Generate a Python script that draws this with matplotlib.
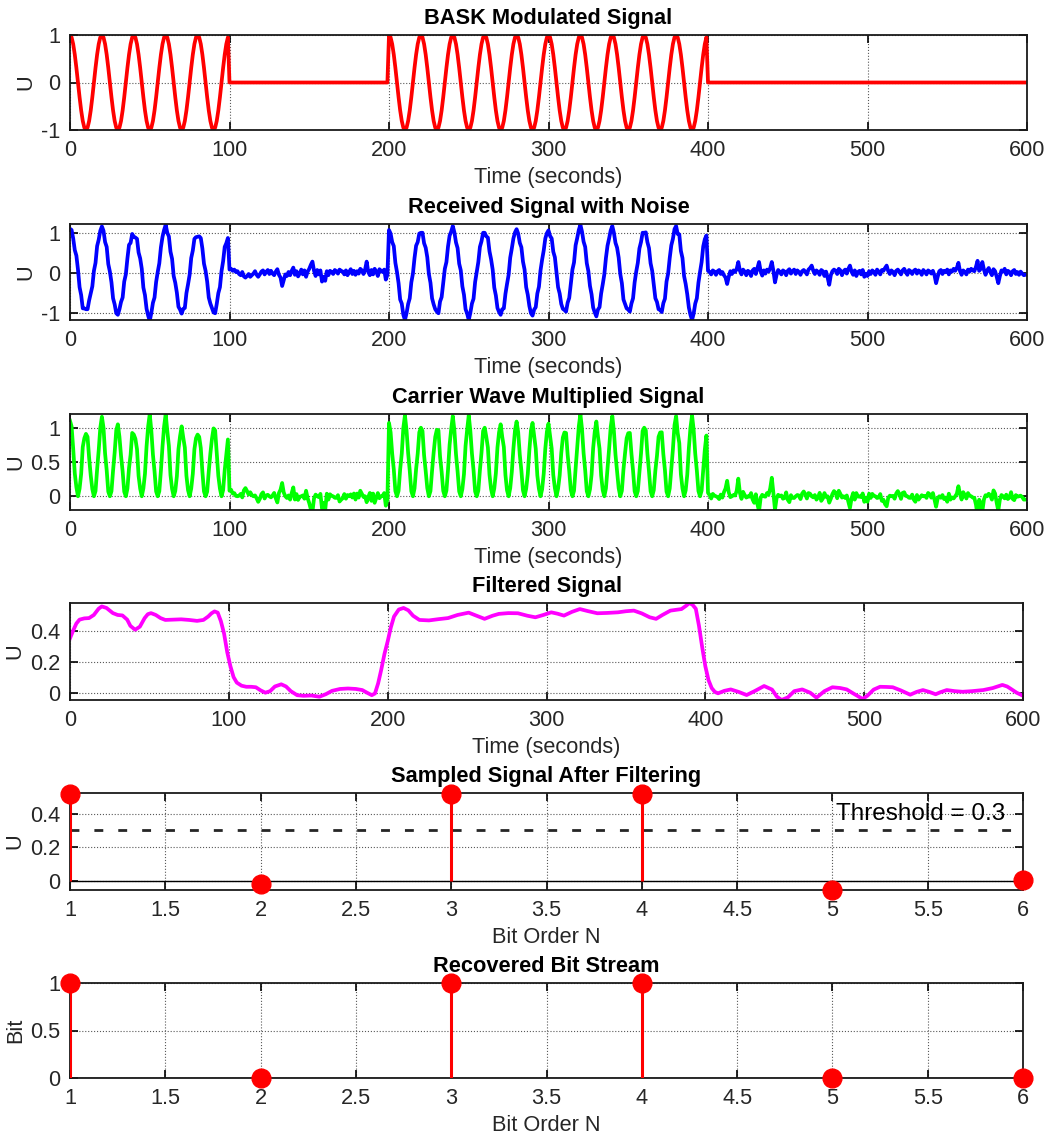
import numpy as np
import matplotlib
matplotlib.use('Agg')
import matplotlib.pyplot as plt

plt.rcParams['font.family'] = ['Liberation Sans', 'DejaVu Sans']
plt.rcParams['axes.unicode_minus'] = False

# transmitted bits and carrier
bits = [1, 0, 1, 1, 0, 0]
bit_duration = 100
carrier_period = 20

# channel noise, one value per second, one list per bit
noise_0 = [.10, .12, .05, -.02, .12, .08, -.05, .03, -.08, .06, .09, .04, .12, .07, -.03, .05, -.06, .08, .02, .10,
           .16, .10, -.04, .06, -.09, .03, .07, -.05, .02, -.06, -.05, .04, .08, -.03, .09, -.04, .05, .11, -.06, .02,
           -.10, -.07, .04, -.08, .05, .10, -.06, .03, -.09, -.12, -.20, -.05, .06, -.03, .08, .02, -.07, .05, .09, .12,
           .20, .05, .10, -.06, .04, -.08, .06, .09, -.04, .03, -.02, .05, -.07, .08, .02, -.05, .06, -.03, .04, -.06,
           -.10, -.04, .06, .02, -.08, .05, .09, -.03, .04, .07, .01, -.06, .03, .08, -.05, .04, -.02, .06, -.07, -.08]
noise_1 = [.08, .10, .05, .08, .02, .04, -.03, -.06, .02, -.09, -.12, -.08, -.03, -.10, -.06, -.02, .04, -.05, -.10, -.04,
           .03, .06, -.04, .02, .07, -.03, .05, -.02, -.06, .03, .09, -.05, -.12, -.33, -.18, -.04, -.08, .02, -.06, .05,
           .13, -.05, .04, -.09, -.02, .08, -.04, .06, -.10, .03, .10, .20, .28, .05, -.08, .07, -.04, .06, -.22, -.10,
           -.20, .04, -.06, .05, .02, -.03, .07, .04, -.02, .08, .05, .03, -.04, .06, -.06, .02, .09, -.03, .05, -.05,
           .04, -.02, .10, .06, -.03, .08, .28, .02, -.06, .07, -.04, .10, .03, -.08, .09, .05, .02, .08, -.17, -.05]
noise_2 = [.07, .03, -.04, .08, -.06, .02, .05, -.08, .04, -.10, -.18, -.06, .03, -.05, .07, -.02, .06, .09, -.04, .03,
           .00, .05, -.07, .04, .08, -.03, .06, -.05, .02, .04, .03, -.06, .09, -.02, .05, .10, -.04, .07, .12, .08,
           .17, .06, -.05, .03, -.08, .06, -.03, .04, -.10, -.07, -.18, -.05, .04, -.06, .08, .02, -.04, .06, -.02, .05,
           .00, -.04, .07, -.05, .03, .08, -.06, .02, -.07, -.03, -.05, .04, -.08, .06, .03, -.05, .07, .02, .05, .06,
           .09, .03, -.06, .05, -.03, .08, -.05, .04, -.02, -.06, -.07, .03, -.05, .07, -.04, .06, .02, -.03, .05, .04]
noise_3 = [.06, -.03, .05, -.06, .08, .02, -.05, .07, .03, .05, .07, -.02, .06, -.04, .03, .08, -.05, .10, .06, .12,
           .20, .08, -.03, .06, -.07, .04, -.02, .05, -.06, -.04, -.09, .03, -.05, .07, .02, -.04, .06, .09, .05, .11,
           .17, .05, -.06, .04, .07, -.03, .05, -.08, .03, .06, .08, -.02, .04, -.05, .07, .03, -.06, .02, -.04, .05,
           .00, .06, -.04, .03, -.07, .05, .02, -.05, .08, .04, .07, -.03, .05, -.06, .09, -.02, .06, .10, .04, .14,
           .17, .02, .15, -.04, .06, -.08, .03, .05, -.06, -.10, -.18, -.07, .04, -.05, .06, .02, -.04, .07, .03, -.02]
noise_4 = [.05, .02, -.04, .06, .03, -.05, .04, .07, -.03, .02, -.06, -.12, -.28, -.10, .04, -.03, .06, .02, .10, .27,
           .05, -.04, .08, .03, -.06, .05, .02, -.08, .06, .10, -.03, .12, .27, .04, -.07, .06, -.02, .08, .03, .12,
           .27, .05, -.24, -.05, .07, .02, -.04, .06, .03, -.06, .05, .09, -.02, .04, .08, -.03, .06, .02, -.05, .04,
           .07, .03, -.04, .08, .12, .18, .05, -.03, .06, .02, -.05, .07, .04, -.08, .03, -.12, -.30, -.06, .04, .08,
           .05, -.03, .10, .06, -.06, .04, .08, -.02, .10, .18, .03, -.05, .06, -.08, .02, .05, -.04, .07, -.10, -.02]
noise_5 = [-.08, .04, -.03, .06, .02, -.05, .08, .03, -.04, .07, .05, .12, .18, .04, -.03, .06, .02, -.06, .05, .08,
           .03, -.04, .06, .10, .02, -.05, .07, .04, -.03, .05, .08, -.02, .06, .03, -.05, .07, .02, -.04, .06, .03,
           -.02, .05, -.06, -.26, -.10, .04, .07, -.03, .05, .02, .08, -.04, .06, .03, .10, .05, .12, .25, .04, -.05,
           .06, .02, -.04, .08, .03, .10, .06, .04, .15, .30, .05, .10, .27, .08, -.05, .06, .12, .02, -.06, .09,
           .04, -.10, -.26, -.08, .06, .03, .10, -.04, .05, .02, -.06, .04, .07, -.03, .02, -.05, .03, -.02, -.06, -.05]

# low-pass filtered signal
filt_t = [0, 2, 4, 6, 9, 12, 15, 18, 20, 23, 27, 30, 33, 36, 38, 41, 44, 47, 49, 51, 54, 57, 60, 65, 70, 75, 80,
          84, 87, 89, 91, 93, 95, 97, 99, 101, 103, 105, 108, 111, 114, 117, 120, 123, 126, 129, 133, 136, 139,
          143, 147, 152, 157, 161, 165, 170, 175, 180, 184, 187, 190, 192, 194, 196, 198, 200, 202, 204, 207,
          210, 213, 216, 220, 226, 232, 238, 244, 251, 256, 261, 266, 270, 276, 282, 288, 293, 298, 303, 307,
          311, 316, 321, 326, 332, 338, 345, 350, 355, 360, 365, 369, 373, 378, 382, 385, 388, 390, 392, 394,
          396, 398, 400, 402, 404, 406, 408, 412, 416, 421, 426, 431, 437, 442, 445, 448, 452, 456, 461, 466,
          470, 475, 480, 485, 489, 494, 499, 502, 506, 510, 514, 518, 523, 529, 533, 537, 541, 545, 548, 552,
          557, 562, 568, 575, 581, 587, 590, 592, 596, 600]
filt_v = [.35, .40, .445, .47, .478, .48, .50, .54, .555, .545, .512, .50, .497, .47, .43, .405, .425, .48, .505,
          .512, .50, .48, .468, .47, .472, .468, .462, .468, .49, .51, .523, .515, .46, .38, .26, .17, .10, .065,
          .045, .038, .038, .035, .015, .0, .01, .04, .054, .04, .01, -.016, -.02, -.018, -.026, -.01, .012, .024,
          .027, .024, .017, .0, -.016, -.005, .06, .15, .25, .33, .42, .49, .535, .545, .53, .495, .468, .465,
          .473, .48, .50, .515, .495, .475, .495, .507, .512, .511, .495, .485, .50, .517, .508, .496, .52, .538,
          .525, .511, .513, .517, .524, .528, .51, .485, .475, .50, .528, .534, .538, .56, .577, .565, .54, .43,
          .294, .17, .081, .03, .005, -.004, .012, .021, .005, -.015, .01, .043, .02, -.025, -.047, -.03, .01,
          .021, .0, -.032, .01, .035, .03, .021, -.01, -.04, -.02, .02, .038, .037, .035, .015, -.013, .005, .017,
          .005, -.010, .003, .017, .01, .006, .01, .017, .03, .05, .04, .027, .0, -.02]

bit_order = [1, 2, 3, 4, 5, 6]
sampled = [0.52, -0.02, 0.52, 0.52, -0.055, 0.005]
recovered = [1, 0, 1, 1, 0, 0]
threshold = 0.3

t = np.arange(len(bits) * bit_duration)
carrier = np.cos(2 * np.pi * t / carrier_period)
bask = np.repeat(bits, bit_duration) * carrier
noise = np.array(noise_0 + noise_1 + noise_2 + noise_3 + noise_4 + noise_5)
received = bask + noise
multiplied = received * carrier

W, H = 1047, 1135
FS = 15.7
fig = plt.figure(figsize=(W / 100, H / 100), dpi=100)


def make_axes(top, bottom, right=1027):
    return fig.add_axes([70 / W, 1 - bottom / H, (right - 70) / W, (bottom - top) / H])


def style(ax, title, xlabel, ylabel):
    ax.set_title(title, fontsize=FS, fontweight='bold', pad=8)
    ax.set_xlabel(xlabel, fontsize=FS, labelpad=4.5, color='0.15')
    ax.set_ylabel(ylabel, fontsize=FS, labelpad=3, color='0.15')
    ax.grid(True, linestyle=':', color='0.35', linewidth=0.8)
    ax.tick_params(direction='in', length=6, width=1.2, top=True, right=True, labelsize=FS, pad=7,
                   labelcolor='0.15')
    for s in ax.spines.values():
        s.set_linewidth(1.3)
        s.set_color('0.1')
    ax.set_yticklabels([f'{v:g}' for v in ax.get_yticks()])
    ax.set_xticklabels([f'{v:g}' for v in ax.get_xticks()])


time_ticks = [0, 100, 200, 300, 400, 500, 600]

ax1 = make_axes(35, 130)
ax1.plot(t, bask, color='red', linewidth=2.7)
ax1.set_xlim(0, 600)
ax1.set_ylim(-1, 1)
ax1.set_xticks(time_ticks)
ax1.set_yticks([-1, 0, 1])
style(ax1, 'BASK Modulated Signal', 'Time (seconds)', 'U')

ax2 = make_axes(224, 320)
ax2.plot(t, received, color='blue', linewidth=2.7)
ax2.set_xlim(0, 600)
ax2.set_ylim(-1.18, 1.22)
ax2.set_xticks(time_ticks)
ax2.set_yticks([-1, 0, 1])
style(ax2, 'Received Signal with Noise', 'Time (seconds)', 'U')

ax3 = make_axes(414, 510)
ax3.plot(t, multiplied, color='#00ff00', linewidth=2.7)
ax3.set_xlim(0, 600)
ax3.set_ylim(-0.2, 1.2)
ax3.set_xticks(time_ticks)
ax3.set_yticks([0, 0.5, 1])
style(ax3, 'Carrier Wave Multiplied Signal', 'Time (seconds)', 'U')

ax4 = make_axes(603, 700, 1023)
ax4.plot(filt_t, filt_v, color='magenta', linewidth=2.7, solid_joinstyle='round')
ax4.set_xlim(0, 600)
ax4.set_ylim(-0.047, 0.577)
ax4.set_xticks(time_ticks)
ax4.set_yticks([0, 0.2, 0.4])
style(ax4, 'Filtered Signal', 'Time (seconds)', 'U')

bit_ticks = [1, 1.5, 2, 2.5, 3, 3.5, 4, 4.5, 5, 5.5, 6]


def draw_stem(ax, values):
    ax.axhline(0, color='black', linewidth=1.0, zorder=2)
    ax.vlines(bit_order, 0, values, color='red', linewidth=2.2, zorder=3)
    ax.plot(bit_order, values, 'o', color='red', markersize=13.5, clip_on=False, zorder=4)


ax5 = make_axes(793, 890, 1023)
draw_stem(ax5, sampled)
ax5.plot([1, 5.94], [threshold, threshold], color='0.15', linewidth=2, dashes=(3.2, 5.4))
ax5.text(5.02, 0.365, f'Threshold = {threshold}', fontsize=17.5, va='baseline')
ax5.set_xlim(1, 6)
ax5.set_ylim(-0.055, 0.523)
ax5.set_xticks(bit_ticks)
ax5.set_yticks([0, 0.2, 0.4])
style(ax5, 'Sampled Signal After Filtering', 'Bit Order N', 'U')

ax6 = make_axes(983, 1078, 1023)
draw_stem(ax6, recovered)
ax6.set_xlim(1, 6)
ax6.set_ylim(0, 1)
ax6.set_xticks(bit_ticks)
ax6.set_yticks([0, 0.5, 1])
style(ax6, 'Recovered Bit Stream', 'Bit Order N', 'Bit')
ax6.xaxis.label.set_va('top')

fig.savefig('out.png', dpi=100)
